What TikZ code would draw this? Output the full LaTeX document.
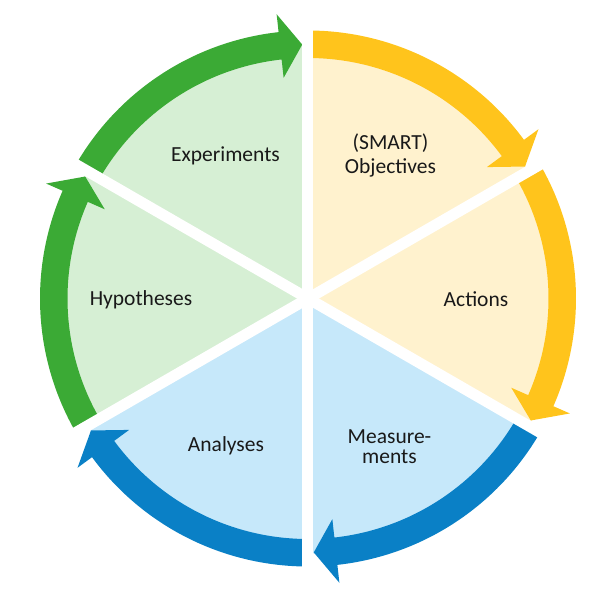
\documentclass[tikz,border=0pt]{standalone}
\usepackage{fontspec}
\setmainfont{Carlito}
\definecolor{gdark}{HTML}{3BAA35}
\definecolor{glight}{HTML}{D6EFD4}
\definecolor{ydark}{HTML}{FFC41C}
\definecolor{ylight}{HTML}{FFF2CE}
\definecolor{bdark}{HTML}{0A80C6}
\definecolor{blight}{HTML}{C6E8FA}
\tikzset{
  lbl/.style={anchor=base, inner sep=0pt, font=\fontsize{21.5}{24}\selectfont, text=black!90},
  gapline/.style={draw=white, line width=11pt}
}
\newcommand{\ringarrow}[3]{% color, start angle, end angle
  \fill[#1] (#2:268pt) arc[start angle=#2, end angle=#3+6.3, radius=268pt]
    -- (#3+6.3:286pt) -- (#3+1.3:254pt) -- (#3+6.3:222pt) -- (#3+6.3:240.5pt)
    arc[start angle=#3+6.3, end angle=#2, radius=240.5pt] -- cycle;}
\begin{document}
\begin{tikzpicture}[x=1pt,y=1pt]
\useasboundingbox (-308,-299.5) rectangle (285,298.5);
% sectors
\fill[ylight] (0,0) -- (90:255pt) arc[start angle=90, end angle=30, radius=255pt] -- cycle;
\fill[ylight] (0,0) -- (30:255pt) arc[start angle=30, end angle=-30, radius=255pt] -- cycle;
\fill[blight] (0,0) -- (-30:255pt) arc[start angle=-30, end angle=-90, radius=255pt] -- cycle;
\fill[blight] (0,0) -- (-90:255pt) arc[start angle=-90, end angle=-150, radius=255pt] -- cycle;
\fill[glight] (0,0) -- (210:255pt) arc[start angle=210, end angle=150, radius=255pt] -- cycle;
\fill[glight] (0,0) -- (150:255pt) arc[start angle=150, end angle=90, radius=255pt] -- cycle;
% ring arrows
\ringarrow{ydark}{90}{30}
\ringarrow{ydark}{30}{-30}
\ringarrow{bdark}{-30}{-90}
\ringarrow{bdark}{-90}{-150}
\ringarrow{gdark}{210}{150}
\ringarrow{gdark}{150}{90}
% gaps
\coordinate (c) at (0,0);
\draw[gapline] (90:300pt) -- (270:300pt);
\draw[gapline] (30:300pt) -- (210:300pt);
\draw[gapline] (150:300pt) -- (330:300pt);
% labels
\node[lbl] (exp) at (-82.5,137.5) {Experiments};
\node[lbl] (smart) at (82.5,149) {(SMART)};
\node[lbl] (obj) at (82.5,125) {Objectives};
\node[lbl] (act) at (168,-7.5) {Actions};
\node[lbl] (meas) at (81.5,-145) {Measure-};
\node[lbl] (ments) at (81.5,-165) {ments};
\node[lbl] (ana) at (-82,-152.5) {Analyses};
\node[lbl] (hyp) at (-167,-6.5) {Hypotheses};
\end{tikzpicture}
\end{document}
